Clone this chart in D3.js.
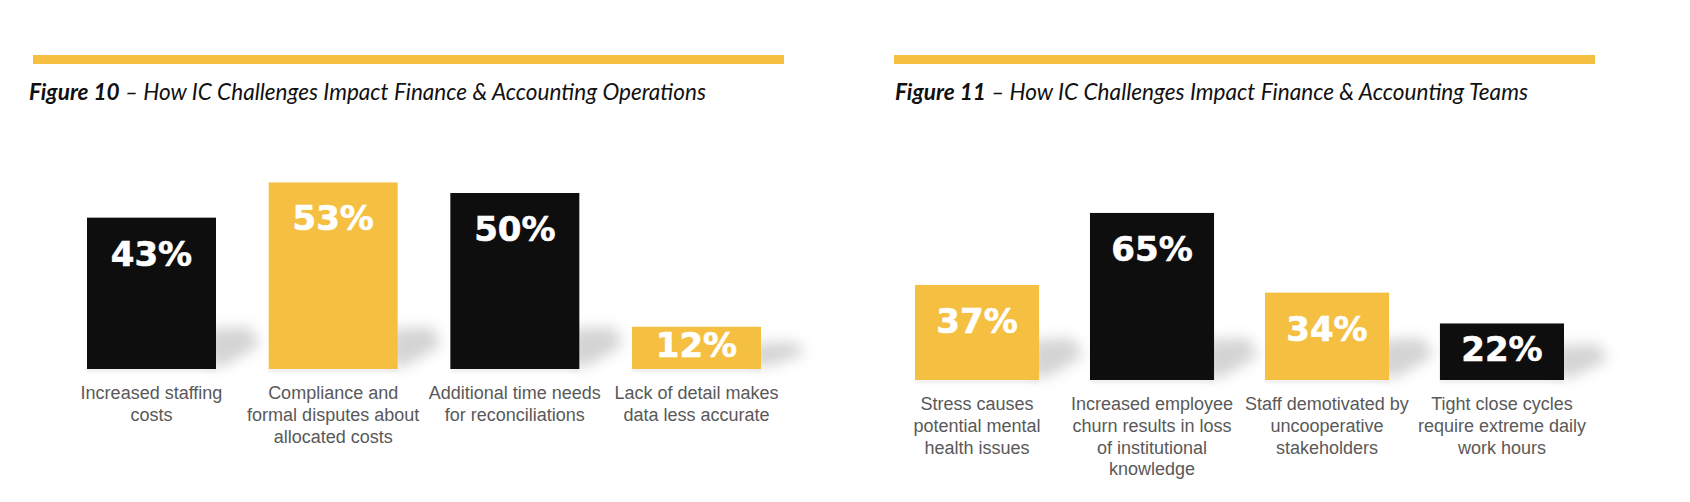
<!DOCTYPE html>
<html>
<head>
<meta charset="utf-8">
<script src="https://cdn.jsdelivr.net/npm/d3@7"></script>
<style>
  html, body { margin: 0; padding: 0; background: #ffffff; }
  svg { display: block; }
</style>
</head>
<body>
<svg id="chart" width="1690" height="502"></svg>
<script>
// ---------- DATA ----------
const fig10Title = ["Figure 10", " \u2013 How IC Challenges Impact Finance & Accounting Operations"];
const fig10Categories = [
  "Increased staffing\ncosts",
  "Compliance and\nformal disputes about\nallocated costs",
  "Additional time needs\nfor reconciliations",
  "Lack of detail makes\ndata less accurate"
];
const fig10Values = [43, 53, 50, 12];

const fig11Title = ["Figure 11", " \u2013 How IC Challenges Impact Finance & Accounting Teams"];
const fig11Categories = [
  "Stress causes\npotential mental\nhealth issues",
  "Increased employee\nchurn results in loss\nof institutional\nknowledge",
  "Staff demotivated by\nuncooperative\nstakeholders",
  "Tight close cycles\nrequire extreme daily\nwork hours"
];
const fig11Values = [37, 65, 34, 22];

// ---------- STYLE ----------
const YELLOW = "#f5bf42";
const BLACK = "#0e0e0e";

const svg = d3.select("#chart");
const defs = svg.append("defs");
defs.append("filter").attr("id", "blurShadow")
  .attr("x", "-50%").attr("y", "-50%").attr("width", "200%").attr("height", "200%")
  .append("feGaussianBlur").attr("stdDeviation", 7);
defs.append("filter").attr("id", "blurSmall")
  .attr("x", "-20%").attr("y", "-200%").attr("width", "140%").attr("height", "500%")
  .append("feGaussianBlur").attr("stdDeviation", 1.5);

function drawPanel(cfg) {
  const g = svg.append("g");

  // top rule
  g.append("rect")
    .attr("x", cfg.ruleX0).attr("y", 55)
    .attr("width", cfg.ruleX1 - cfg.ruleX0).attr("height", 9)
    .attr("fill", YELLOW);

  // title
  const t = g.append("text")
    .attr("x", cfg.titleX0).attr("y", 100)
    .attr("font-family", "Lato, 'Open Sans', sans-serif")
    .attr("font-size", 23)
    .attr("font-style", "italic")
    .attr("fill", "#111")
    .attr("textLength", cfg.titleX1 - cfg.titleX0)
    .attr("lengthAdjust", "spacingAndGlyphs");
  t.append("tspan").attr("font-weight", "bold").text(cfg.title[0]);
  t.append("tspan").attr("font-weight", "normal").text(cfg.title[1]);

  const x = d3.scaleBand()
    .domain(cfg.categories)
    .range([cfg.barX0, cfg.barX1])
    .paddingInner(cfg.pad)
    .paddingOuter(0);
  const y = d3.scaleLinear()
    .domain([0, 100])
    .range([cfg.baseline, cfg.baseline - cfg.pxPerPct * 100]);

  const data = cfg.categories.map((c, i) => ({ c, v: cfg.values[i], i }));

  // shadows
  g.append("g").selectAll("polygon").data(data).join("polygon")
    .attr("points", d => {
      const R = x(d.c) + x.bandwidth();
      const B = y(0);
      const h = y(0) - y(d.v);
      const sh = Math.min(40, h * 0.6);
      return [[R - 8, B - sh], [R + 34, B - sh - 2], [R + 44, B - sh * 0.6], [R + 8, B - 3], [R - 8, B - 3]]
        .map(p => p.join(",")).join(" ");
    })
    .attr("fill", "#a8a8a8")
    .attr("opacity", 0.5)
    .attr("filter", "url(#blurShadow)");

  // faint floor line under bars
  g.append("g").selectAll("rect").data(data).join("rect")
    .attr("x", d => x(d.c))
    .attr("y", y(0))
    .attr("width", x.bandwidth())
    .attr("height", 3)
    .attr("fill", "#d8d8d8")
    .attr("opacity", 0.5)
    .attr("filter", "url(#blurSmall)");

  // bars
  g.append("g").selectAll("rect").data(data).join("rect")
    .attr("x", d => x(d.c))
    .attr("y", d => y(d.v))
    .attr("width", x.bandwidth())
    .attr("height", d => y(0) - y(d.v))
    .attr("fill", d => (d.i % 2 === cfg.yellowParity) ? YELLOW : BLACK);

  // value labels
  g.append("g").selectAll("text").data(data).join("text")
    .attr("x", d => x(d.c) + x.bandwidth() / 2)
    .attr("y", d => {
      const top = y(d.v), bot = y(0);
      return Math.min(top + 48, (top + bot) / 2 + 9.5);
    })
    .attr("text-anchor", "middle")
    .attr("font-family", "'DejaVu Sans', Verdana, sans-serif")
    .attr("font-weight", "bold")
    .attr("font-size", 34)
    .attr("fill", "#ffffff")
    .attr("stroke", "#ffffff")
    .attr("stroke-width", 0.6)
    .text(d => d.v + "%");

  // category labels
  const lab = g.append("g").selectAll("text").data(data).join("text")
    .attr("x", d => x(d.c) + x.bandwidth() / 2)
    .attr("y", y(0) + 30)
    .attr("text-anchor", "middle")
    .attr("font-family", "'Liberation Sans', Arial, sans-serif")
    .attr("font-size", 18)
    .attr("fill", "#595959");
  lab.each(function(d) {
    const el = d3.select(this);
    d.c.split("\n").forEach((line, k) => {
      el.append("tspan")
        .attr("x", x(d.c) + x.bandwidth() / 2)
        .attr("dy", k === 0 ? 0 : 21.8)
        .text(line);
    });
  });
}

drawPanel({
  title: fig10Title, categories: fig10Categories, values: fig10Values,
  ruleX0: 33, ruleX1: 784, titleX0: 29, titleX1: 706,
  barX0: 87, barX1: 761, pad: 0.29, baseline: 369, pxPerPct: 3.52,
  yellowParity: 1
});

drawPanel({
  title: fig11Title, categories: fig11Categories, values: fig11Values,
  ruleX0: 894, ruleX1: 1595, titleX0: 895, titleX1: 1528,
  barX0: 915, barX1: 1564, pad: 0.291, baseline: 380, pxPerPct: 2.57,
  yellowParity: 0
});
</script>
</body>
</html>
